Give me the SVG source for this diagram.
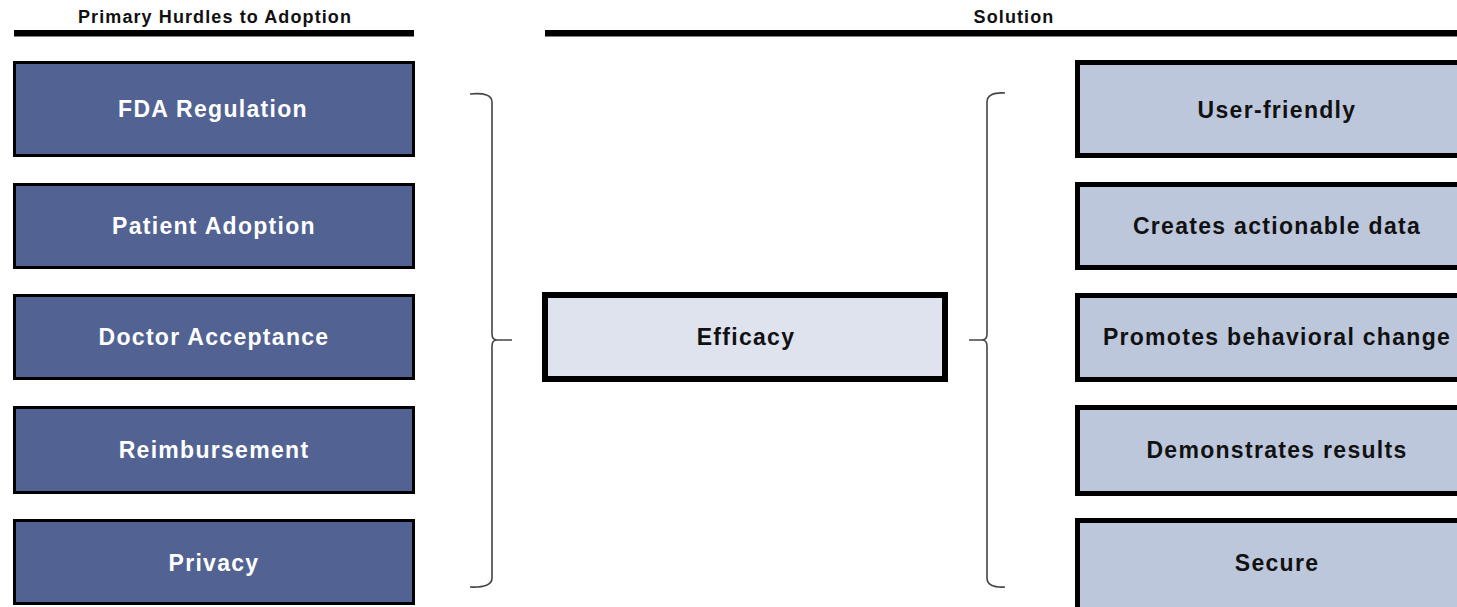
<svg xmlns="http://www.w3.org/2000/svg" width="1457" height="607" viewBox="0 0 1457 607">
<style>
text{font-family:"Liberation Sans",Arial,sans-serif;font-weight:bold;text-anchor:middle}
.hdr{font-size:18px;letter-spacing:1.1px;fill:#111}
.hurdle rect{fill:#526393;stroke:#000;stroke-width:3}
.hurdle text{font-size:23px;letter-spacing:1.3px;fill:#fff}
.sol rect{fill:#bdc7dc;stroke:#000;stroke-width:5}
.sol text{font-size:23px;letter-spacing:1.3px;fill:#111}
.eff rect{fill:#dfe3ee;stroke:#000;stroke-width:6}
.eff text{font-size:23px;letter-spacing:1.3px;fill:#111}
.brace{fill:none;stroke:#444;stroke-width:1.6}
</style>
<rect width="1457" height="607" fill="#fff"/>
<g id="headers">
<text class="hdr" x="215" y="23">Primary Hurdles to Adoption</text>
<rect x="14" y="30" width="400" height="6.5" fill="#000"/>
<text class="hdr" x="1014" y="23">Solution</text>
<rect x="545" y="30" width="912" height="6.5" fill="#000"/>
</g>
<g id="hurdle-fda" class="hurdle"><rect x="14.5" y="62.5" width="399" height="93"/><text x="213" y="117">FDA Regulation</text></g>
<g id="hurdle-patient" class="hurdle"><rect x="14.5" y="184.5" width="399" height="83"/><text x="214" y="234">Patient Adoption</text></g>
<g id="hurdle-doctor" class="hurdle"><rect x="14.5" y="295.5" width="399" height="83"/><text x="214" y="345">Doctor Acceptance</text></g>
<g id="hurdle-reimb" class="hurdle"><rect x="14.5" y="407.5" width="399" height="85"/><text x="214" y="458">Reimbursement</text></g>
<g id="hurdle-privacy" class="hurdle"><rect x="14.5" y="520.5" width="399" height="83"/><text x="214" y="571">Privacy</text></g>
<g id="efficacy" class="eff"><rect x="545" y="295" width="400" height="84"/><text x="746" y="345">Efficacy</text></g>
<g id="sol-user" class="sol"><rect x="1077.5" y="62.5" width="420" height="93"/><text x="1277" y="118">User-friendly</text></g>
<g id="sol-data" class="sol"><rect x="1077.5" y="184.5" width="420" height="83"/><text x="1277" y="234">Creates actionable data</text></g>
<g id="sol-behavior" class="sol"><rect x="1077.5" y="295.5" width="420" height="84"/><text x="1277" y="345">Promotes behavioral change</text></g>
<g id="sol-results" class="sol"><rect x="1077.5" y="407.5" width="420" height="86"/><text x="1277" y="458">Demonstrates results</text></g>
<g id="sol-secure" class="sol"><rect x="1077.5" y="520.5" width="420" height="100"/><text x="1277" y="571">Secure</text></g>
<g id="connectors">
<path class="brace" d="M470,94 Q492,92 492,102 L492,334 Q492,340 497,340 L512,340 M497,340 Q492,340 492,346 L492,578 Q492,588 470,587"/>
<path class="brace" d="M1005,93 Q987,92 987,102 L987,334 Q987,340 982,340 L969,340 M982,340 Q987,340 987,346 L987,578 Q987,588 1005,587"/>
</g>
</svg>
